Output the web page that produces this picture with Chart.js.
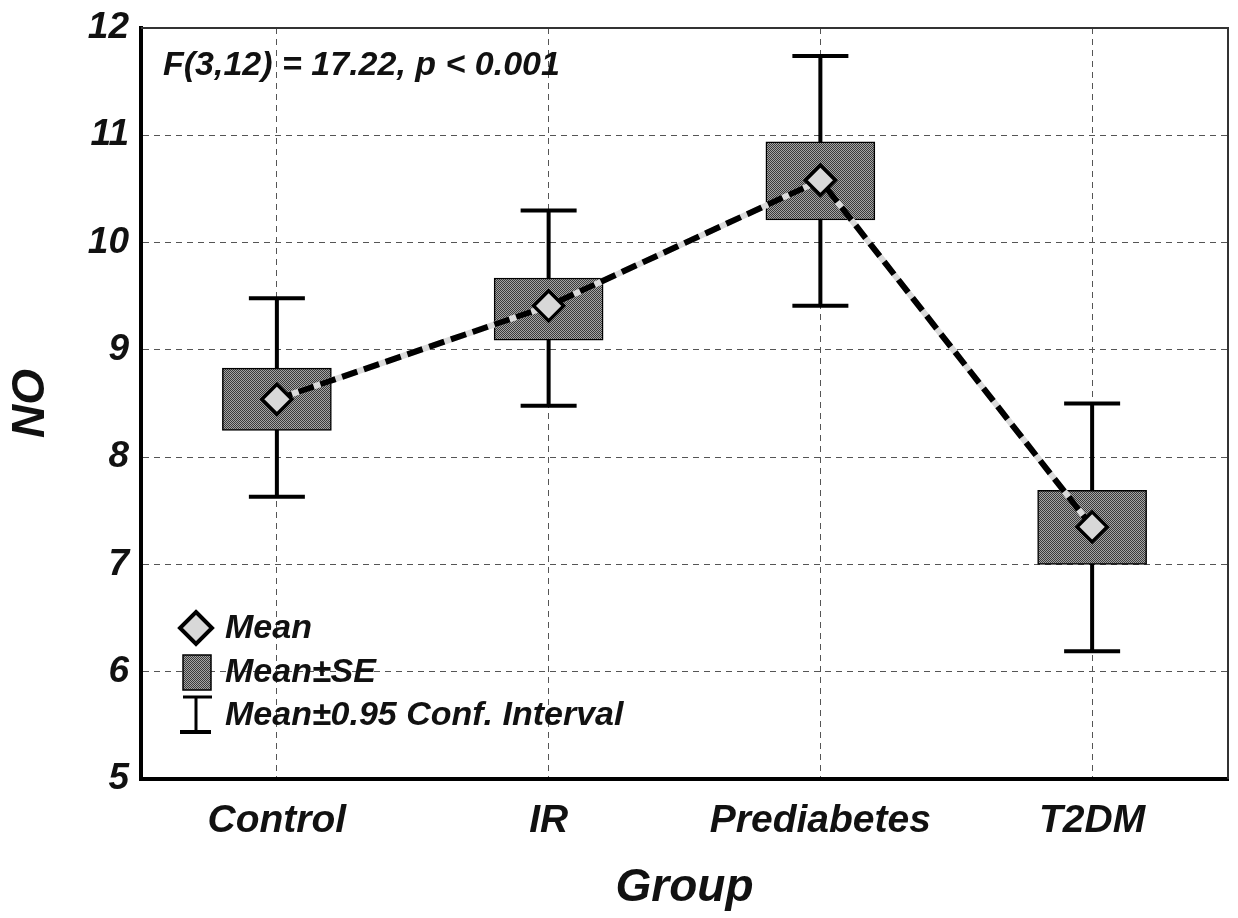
<!DOCTYPE html>
<html>
<head>
<meta charset="utf-8">
<title>NO by Group</title>
<script src="https://cdn.jsdelivr.net/npm/chart.js@4/dist/chart.umd.min.js"></script>
<style>
  html, body { margin: 0; padding: 0; background: #fff; }
  #noChart { display: block; }
</style>
</head>
<body>
<canvas id="noChart" width="1238" height="918"></canvas>
<script>
// values
const groups = ['Control', 'IR', 'Prediabetes', 'T2DM'];
const means = [8.54, 9.41, 10.58, 7.35];
const seLow = [8.25, 9.09, 10.21, 7.00];
const seHigh = [8.83, 9.67, 10.94, 7.69];
const ciLow = [7.63, 8.48, 9.41, 6.19];
const ciHigh = [9.48, 10.30, 11.74, 8.50];
const yTicks = [5, 6, 7, 8, 9, 10, 11, 12];
const statText = 'F(3,12) = 17.22, p < 0.001';
const legendLabels = ['Mean', 'Mean\u00b1SE', 'Mean\u00b10.95 Conf. Interval'];

const FONT = '"Liberation Sans", Arial, Helvetica, sans-serif';

// dithered grey fill like the original box
function makeDither(ctx) {
    const c = document.createElement('canvas');
    c.width = 2; c.height = 2;
    const g = c.getContext('2d');
    g.fillStyle = '#a5a5a5'; g.fillRect(0, 0, 2, 2);
    g.fillStyle = '#3a3a3a'; g.fillRect(0, 0, 1, 1); g.fillRect(1, 1, 1, 1);
    return ctx.createPattern(c, 'repeat');
}

const ctx = document.getElementById('noChart').getContext('2d');
const dither = makeDither(ctx);

// whiskers for the confidence interval, drawn under the boxes
const errorBars = {
    id: 'errorBars',
    beforeDatasetsDraw(chart) {
        const { ctx, scales: { x, y } } = chart;
        ctx.save();
        ctx.strokeStyle = '#000';
        ctx.lineWidth = 4;
        ctx.lineCap = 'butt';
        groups.forEach((g, i) => {
            const px = x.getPixelForValue(i);
            const top = y.getPixelForValue(ciHigh[i]);
            const bot = y.getPixelForValue(ciLow[i]);
            ctx.beginPath();
            ctx.moveTo(px, top); ctx.lineTo(px, bot);
            ctx.moveTo(px - 28, top); ctx.lineTo(px + 28, top);
            ctx.moveTo(px - 28, bot); ctx.lineTo(px + 28, bot);
            ctx.stroke();
        });
        ctx.restore();
    }
};

// frame, stats text and the in-plot legend
const extras = {
    id: 'extras',
    afterDraw(chart) {
        const { ctx, chartArea: a } = chart;
        ctx.save();
        ctx.strokeStyle = '#333';
        ctx.lineWidth = 2;
        ctx.beginPath();
        ctx.moveTo(a.left, a.top); ctx.lineTo(a.right, a.top); ctx.lineTo(a.right, a.bottom);
        ctx.stroke();

        ctx.fillStyle = '#111';
        ctx.font = 'italic bold 34px ' + FONT;
        ctx.textBaseline = 'middle';
        ctx.textAlign = 'left';
        ctx.fillText(statText, a.left + 22, a.top + 38);

        // legend
        const lx = a.left + 55;
        const rows = [a.bottom - 151, a.bottom - 107, a.bottom - 64];
        ctx.strokeStyle = '#000';
        // diamond
        ctx.beginPath();
        ctx.moveTo(lx, rows[0] - 16); ctx.lineTo(lx + 16, rows[0]);
        ctx.lineTo(lx, rows[0] + 16); ctx.lineTo(lx - 16, rows[0]);
        ctx.closePath();
        ctx.fillStyle = '#d8d8d8'; ctx.fill();
        ctx.lineWidth = 4; ctx.stroke();
        // box
        ctx.fillStyle = dither;
        ctx.fillRect(lx - 13, rows[1] - 17, 28, 35);
        ctx.lineWidth = 1.5;
        ctx.strokeRect(lx - 13, rows[1] - 17, 28, 35);
        // whisker
        ctx.beginPath();
        ctx.lineWidth = 3;
        ctx.moveTo(lx - 13, rows[2] - 18); ctx.lineTo(lx + 16, rows[2] - 18);
        ctx.moveTo(lx, rows[2] - 18); ctx.lineTo(lx, rows[2] + 17);
        ctx.stroke();
        ctx.beginPath();
        ctx.lineWidth = 4;
        ctx.moveTo(lx - 16, rows[2] + 17); ctx.lineTo(lx + 15, rows[2] + 17);
        ctx.stroke();

        ctx.fillStyle = '#111';
        ctx.font = 'italic bold 34px ' + FONT;
        legendLabels.forEach((t, i) => ctx.fillText(t, lx + 29, rows[i] + 1));
        ctx.restore();
    }
};

const chart = new Chart(ctx, {
    type: 'bar',
    data: {
        labels: groups,
        datasets: [
            {
                type: 'line',
                label: 'Mean',
                data: means,
                order: 0,
                borderColor: '#000',
                borderWidth: 6,
                borderDash: [16, 7],
                pointStyle: 'rectRot',
                pointRadius: 15,
                pointBackgroundColor: '#d8d8d8',
                pointBorderColor: '#000',
                pointBorderWidth: 3.5,
                tension: 0
            },
            {
                type: 'line',
                label: 'line base',
                data: means,
                order: 1,
                borderColor: '#dadada',
                borderWidth: 6,
                pointRadius: 0,
                tension: 0
            },
            {
                type: 'bar',
                label: 'Mean\u00b1SE',
                data: groups.map((g, i) => [seLow[i], seHigh[i]]),
                order: 2,
                backgroundColor: dither,
                borderColor: '#000',
                borderWidth: 1.5,
                borderSkipped: false,
                barThickness: 109
            }
        ]
    },
    options: {
        responsive: false,
        animation: false,
        layout: { autoPadding: false, padding: { left: 0, right: 10, top: 28, bottom: 0 } },
        plugins: {
            legend: { display: false },
            tooltip: { enabled: false }
        },
        scales: {
            x: {
                offset: true,
                afterFit(scale) {
                    scale.height = 139;
                    scale.paddingLeft = 0;
                    scale.paddingRight = 0;
                },
                grid: { offset: false, color: '#555', lineWidth: 1, drawTicks: false },
                border: { display: true, color: '#000', width: 4, dash: [6, 5] },
                ticks: {
                    color: '#111',
                    padding: 19,
                    font: { family: FONT, size: 39, style: 'italic', weight: 'bold' }
                },
                title: {
                    display: true,
                    text: 'Group',
                    color: '#111',
                    padding: { top: 4, bottom: 2 },
                    font: { family: FONT, size: 46, style: 'italic', weight: 'bold' }
                }
            },
            y: {
                min: 5,
                max: 12,
                afterFit(scale) {
                    scale.width = 141;
                    scale.paddingTop = 0;
                    scale.paddingBottom = 0;
                },
                afterBuildTicks(scale) { scale.ticks = yTicks.map(v => ({ value: v })); },
                grid: { color: '#555', lineWidth: 1, drawTicks: false },
                border: { display: true, color: '#000', width: 4, dash: [6, 5] },
                ticks: {
                    color: '#111',
                    padding: 12,
                    font: { family: FONT, size: 37, style: 'italic', weight: 'bold' }
                },
                title: {
                    display: true,
                    text: 'NO',
                    color: '#111',
                    padding: { top: 4, bottom: 4 },
                    font: { family: FONT, size: 46, style: 'italic', weight: 'bold' }
                }
            }
        }
    },
    plugins: [errorBars, extras]
});
</script>
</body>
</html>
